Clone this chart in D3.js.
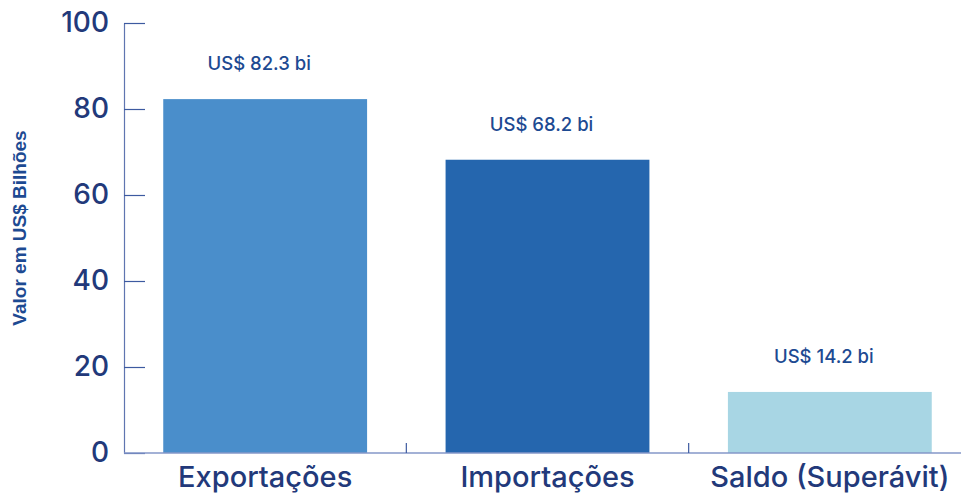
<!DOCTYPE html>
<html>
<head>
<meta charset="utf-8">
<script src="https://cdn.jsdelivr.net/npm/d3@7.9.0/dist/d3.min.js"></script>
<style>
  html, body { margin: 0; padding: 0; background: #fff; }
  svg { display: block; font-family: Inter, "Noto Sans", sans-serif; }
</style>
</head>
<body>
<svg id="chart" width="961" height="493"></svg>
<script>
const categories = ['Exportações', 'Importações', 'Saldo (Superávit)'];
const values = [82.3, 68.2, 14.2];
const valueLabels = ['US$ 82.3 bi', 'US$ 68.2 bi', 'US$ 14.2 bi'];
const barColors = ['#4a8ecb', '#2566ae', '#a8d6e4'];
const yTicks = [0, 20, 40, 60, 80, 100];

const svg = d3.select('#chart');
const plotLeft = 124, plotRight = 971, plotTop = 23, plotBottom = 453;

const x = d3.scaleBand().domain(categories).range([plotLeft, plotRight]).paddingInner(0).paddingOuter(0);
const y = d3.scaleLinear().domain([0, 100]).range([plotBottom, plotTop]);
const barW = x.bandwidth() * 0.722;

// bars
svg.selectAll('rect.bar')
  .data(values)
  .join('rect')
  .attr('class', 'bar')
  .attr('x', (d, i) => x(categories[i]) + (x.bandwidth() - barW) / 2)
  .attr('width', barW)
  .attr('y', (d) => y(d))
  .attr('height', (d) => y(0) - y(d))
  .attr('fill', (d, i) => barColors[i]);

// value labels
svg.selectAll('text.val')
  .data(values)
  .join('text')
  .attr('class', 'val')
  .attr('x', (d, i) => x(categories[i]) + x.bandwidth() / 2 - 6)
  .attr('y', (d) => y(d) - 29)
  .attr('text-anchor', 'middle')
  .attr('font-size', 18.5)
  .attr('font-weight', 500)
  .attr('fill', '#1d4a92')
  .text((d, i) => valueLabels[i]);

// y axis
const yAxis = svg.append('g')
  .attr('transform', `translate(${plotLeft},0)`)
  .call(d3.axisLeft(y).tickValues(yTicks).tickSizeInner(-21).tickSizeOuter(0).tickPadding(15));
yAxis.select('.domain').attr('stroke', '#5f75b0').attr('stroke-width', 1.2);
yAxis.selectAll('.tick line').attr('stroke', '#3d5aa0').attr('stroke-width', 1.2);
yAxis.selectAll('.tick text')
  .attr('font-size', 28)
  .attr('font-weight', 500)
  .attr('fill', '#22397a')
  .attr('font-family', 'Inter, sans-serif');

// x axis, ticks at band boundaries
const xAxisG = svg.append('g').attr('transform', `translate(0,${plotBottom})`);
xAxisG.append('line')
  .attr('x1', plotLeft).attr('x2', 961)
  .attr('stroke', '#8597c8').attr('stroke-width', 1.5);
xAxisG.selectAll('line.bt')
  .data(categories.slice(1))
  .join('line')
  .attr('class', 'bt')
  .attr('x1', (d) => x(d)).attr('x2', (d) => x(d))
  .attr('y1', 0).attr('y2', -10)
  .attr('stroke', '#3d5aa0').attr('stroke-width', 1.2);
xAxisG.selectAll('text')
  .data(categories)
  .join('text')
  .attr('x', (d) => x(d) + x.bandwidth() / 2)
  .attr('y', 34)
  .attr('text-anchor', 'middle')
  .attr('font-size', 29)
  .attr('font-weight', 500)
  .attr('fill', '#22397a')
  .text((d) => d);

// y title
svg.append('text')
  .attr('transform', `translate(26,228) rotate(-90)`)
  .attr('text-anchor', 'middle')
  .attr('font-family', '"Liberation Sans", Arial, sans-serif')
  .attr('font-size', 19)
  .attr('font-weight', 'bold')
  .attr('fill', '#1d4a92')
  .text('Valor em US$ Bilhões');
</script>
</body>
</html>
